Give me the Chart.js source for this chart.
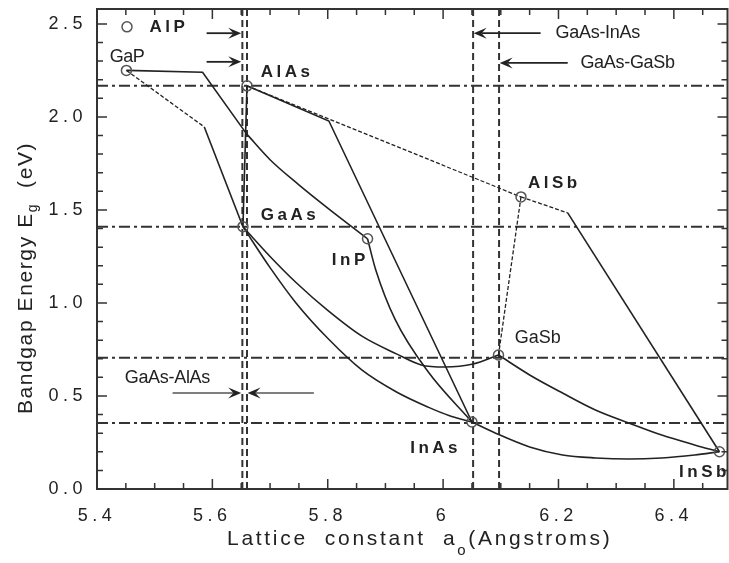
<!DOCTYPE html>
<html>
<head>
<meta charset="utf-8">
<script src="https://cdn.jsdelivr.net/npm/chart.js@4.4.1/dist/chart.umd.min.js"></script>
<style>
html, body { margin: 0; padding: 0; overflow: hidden; background: #fff; }
#wrap { width: 734px; height: 563px; }
</style>
</head>
<body>
<div id="wrap"><canvas id="mycanvas"></canvas></div>
<script>
// binary compounds: lattice constant (Angstroms) and bandgap (eV)
var compounds = ['GaP', 'AlAs', 'GaAs', 'InP', 'AlSb', 'GaSb', 'InAs', 'InSb'];
var compoundA = [5.451, 5.660, 5.653, 5.869, 6.135, 6.096, 6.050, 6.479];
var compoundEg = [2.25, 2.167, 1.41, 1.345, 1.57, 0.72, 0.36, 0.20];

// AlP legend marker
var alpA = [5.452];
var alpEg = [2.484];

// ternary alloys
var gapInpIndA = [5.451, 5.583, 5.659];
var gapInpIndEg = [2.25, 2.24, 1.91];
var gapInpDirA = [5.659, 5.70, 5.75, 5.80, 5.869];
var gapInpDirEg = [1.91, 1.77, 1.635, 1.51, 1.345];
var gapGaasIndA = [5.451, 5.586];
var gapGaasIndEg = [2.25, 1.946];
var gapGaasDirA = [5.586, 5.653];
var gapGaasDirEg = [1.946, 1.41];
var alasInasA = [5.660, 5.802, 6.050];
var alasInasEg = [2.167, 1.978, 0.36];
var alasAlsbA = [5.660, 6.135];
var alasAlsbEg = [2.167, 1.57];
var alasGaasA = [5.660, 5.653];
var alasGaasEg = [2.167, 1.41];
var gaasInasA = [5.653, 5.70, 5.745, 5.80, 5.859, 5.92, 5.974, 6.01, 6.050];
var gaasInasEg = [1.41, 1.19, 1.0, 0.81, 0.64, 0.52, 0.44, 0.395, 0.36];
var gaasGasbA = [5.653, 5.70, 5.745, 5.80, 5.86, 5.92, 5.962, 6.003, 6.052, 6.096];
var gaasGasbEg = [1.41, 1.25, 1.11, 0.96, 0.82, 0.725, 0.667, 0.656, 0.672, 0.72];
var inpInasA = [5.869, 5.883, 5.917, 5.974, 6.050];
var inpInasEg = [1.345, 1.18, 0.91, 0.63, 0.36];
var alsbGasbA = [6.135, 6.096];
var alsbGasbEg = [1.57, 0.72];
var alsbInsbIndA = [6.135, 6.216];
var alsbInsbIndEg = [1.57, 1.484];
var alsbInsbDirA = [6.216, 6.479];
var alsbInsbDirEg = [1.484, 0.20];
var gasbInsbA = [6.096, 6.15, 6.207, 6.264, 6.322, 6.379, 6.436, 6.479];
var gasbInsbEg = [0.72, 0.613, 0.516, 0.425, 0.355, 0.29, 0.237, 0.20];
var inasInsbA = [6.050, 6.091, 6.15, 6.207, 6.264, 6.322, 6.379, 6.436, 6.479];
var inasInsbEg = [0.36, 0.30, 0.226, 0.183, 0.167, 0.161, 0.167, 0.183, 0.20];

// lattice matched guides
var guideA = [5.652, 5.660, 6.052, 6.097];
var guideEg = [2.167, 1.41, 0.705, 0.355];

var xTicks = [5.4, 5.6, 5.8, 6.0, 6.2, 6.4];
var yTicks = [0, 0.5, 1.0, 1.5, 2.0, 2.5];
var xMin = 5.4, xMax = 6.493, yMin = 0, yMax = 2.58;

var FONT = '"Liberation Sans", Arial, sans-serif';
var ink = '#222';

function pts(a, e) {
  return a.map(function(v, i) { return {x: v, y: e[i]}; });
}

function curve(a, e, dashed, smooth) {
  return {
    type: 'line', data: pts(a, e), showLine: true,
    borderColor: ink, borderWidth: dashed ? 1.3 : 1.6,
    borderDash: dashed ? [4, 2] : [],
    pointRadius: 0, fill: false, tension: 0,
    cubicInterpolationMode: smooth ? 'monotone' : 'default'
  };
}

function vGuide(a) {
  return { type: 'line', data: [{x: a, y: yMin}, {x: a, y: yMax}], showLine: true,
    borderColor: '#333', borderWidth: 2, borderDash: [7, 4], pointRadius: 0, fill: false };
}

function hGuide(e) {
  return { type: 'line', data: [{x: xMin, y: e}, {x: xMax, y: e}], showLine: true,
    borderColor: '#333', borderWidth: 2, borderDash: [11, 4, 3, 4], pointRadius: 0, fill: false };
}

var markerStyle = {
  showLine: false, pointRadius: 5, pointBorderWidth: 1.5,
  pointBorderColor: '#555', pointBackgroundColor: 'rgba(255,255,255,0)'
};

var datasets = [
  Object.assign({ label: 'compounds', data: pts(compoundA, compoundEg) }, markerStyle),
  Object.assign({ label: 'AlP', data: pts(alpA, alpEg) }, markerStyle),
  curve(gapInpIndA, gapInpIndEg, false, false),
  curve(gapInpDirA, gapInpDirEg, false, true),
  curve(gapGaasIndA, gapGaasIndEg, true, false),
  curve(gapGaasDirA, gapGaasDirEg, false, false),
  curve(alasInasA, alasInasEg, false, false),
  curve(alasAlsbA, alasAlsbEg, true, false),
  curve(alasGaasA, alasGaasEg, false, false),
  curve(gaasInasA, gaasInasEg, false, true),
  curve(gaasGasbA, gaasGasbEg, false, true),
  curve(inpInasA, inpInasEg, false, true),
  curve(alsbGasbA, alsbGasbEg, true, false),
  curve(alsbInsbIndA, alsbInsbIndEg, true, false),
  curve(alsbInsbDirA, alsbInsbDirEg, false, false),
  curve(gasbInsbA, gasbInsbEg, false, true),
  curve(inasInsbA, inasInsbEg, false, true)
];
guideA.forEach(function(a) { datasets.push(vGuide(a)); });
guideEg.forEach(function(e) { datasets.push(hGuide(e)); });

// text notes: text, a, Eg, font, letter spacing
var notes = [
  ['AlP', 5.491, 2.484, 'bold 17px ' + FONT, 3.5],
  ['GaP', 5.422, 2.323, '18px ' + FONT, -0.5],
  ['AlAs', 5.684, 2.242, 'bold 17px ' + FONT, 3.5],
  ['GaAs', 5.684, 1.473, 'bold 17px ' + FONT, 3.5],
  ['InP', 5.807, 1.231, 'bold 17px ' + FONT, 3.5],
  ['AlSb', 6.147, 1.645, 'bold 17px ' + FONT, 3.5],
  ['GaSb', 6.124, 0.812, '18px ' + FONT, 0],
  ['InAs', 5.943, 0.220, 'bold 17px ' + FONT, 3.5],
  ['InSb', 6.409, 0.091, 'bold 17px ' + FONT, 3.5],
  ['GaAs-InAs', 6.195, 2.452, '18px ' + FONT, -0.3],
  ['GaAs-GaSb', 6.238, 2.290, '18px ' + FONT, -0.3],
  ['GaAs-AlAs', 5.448, 0.597, '18px ' + FONT, -0.3]
];

// arrows: from (a, Eg) to (a, Eg)
var arrowFromA = [5.590, 5.590, 6.169, 6.216, 5.531, 5.776];
var arrowToA = [5.650, 5.650, 6.053, 6.098, 5.650, 5.661];
var arrowEg = [2.45, 2.296, 2.45, 2.29, 0.516, 0.516];

function arrow(c, x1, y1, x2, y2) {
  var ang = Math.atan2(y2 - y1, x2 - x1), L = 13, W = 5.5;
  c.beginPath();
  c.moveTo(x1, y1);
  c.lineTo(x2 - Math.cos(ang) * 8, y2 - Math.sin(ang) * 8);
  c.stroke();
  c.save();
  c.translate(x2, y2);
  c.rotate(ang);
  c.beginPath();
  c.moveTo(0, 0); c.lineTo(-L, -W); c.lineTo(-L * 0.6, 0); c.lineTo(-L, W);
  c.closePath();
  c.fill();
  c.restore();
}

function runs(c, parts, x, y) {
  parts.forEach(function(p) {
    c.font = p.f;
    c.fillText(p.t, x, y + p.dy);
    x += c.measureText(p.t).width;
  });
}

function runsWidth(c, parts) {
  var w = 0;
  parts.forEach(function(p) { c.font = p.f; w += c.measureText(p.t).width; });
  return w;
}

function noPad(s) {
  s.paddingTop = 0; s.paddingBottom = 0; s.paddingLeft = 0; s.paddingRight = 0;
}

var framePlugin = {
  id: 'frame',
  beforeDraw: function(chart) {
    chart.ctx.letterSpacing = '4.5px';
  },
  afterDraw: function(chart) {
    var c = chart.ctx, ca = chart.chartArea, xs = chart.scales.x, ys = chart.scales.y;
    c.save();
    c.letterSpacing = '0px';
    c.strokeStyle = '#333';
    c.lineWidth = 2;
    c.strokeRect(ca.left, ca.top, ca.right - ca.left, ca.bottom - ca.top);

    // inward ticks, minor every 0.05 / 0.1
    c.lineWidth = 1.5;
    var i, px, len;
    for (i = 0; xMin + i * 0.05 <= xMax + 1e-9; i++) {
      px = xs.getPixelForValue(xMin + i * 0.05);
      len = i % 4 === 0 ? 10 : 6;
      c.beginPath();
      c.moveTo(px, ca.bottom); c.lineTo(px, ca.bottom - len);
      c.moveTo(px, ca.top); c.lineTo(px, ca.top + len);
      c.stroke();
    }
    for (i = 0; yMin + i * 0.1 <= yMax + 1e-9; i++) {
      px = ys.getPixelForValue(yMin + i * 0.1);
      len = i % 5 === 0 ? 10 : 6;
      c.beginPath();
      c.moveTo(ca.left, px); c.lineTo(ca.left + len, px);
      c.moveTo(ca.right, px); c.lineTo(ca.right - len, px);
      c.stroke();
    }

    // arrows
    c.strokeStyle = ink;
    c.fillStyle = ink;
    c.lineWidth = 1.8;
    for (i = 0; i < arrowEg.length; i++) {
      if (i >= 4) { c.strokeStyle = '#555'; c.lineWidth = 1.5; }
      arrow(c, xs.getPixelForValue(arrowFromA[i]), ys.getPixelForValue(arrowEg[i]),
        xs.getPixelForValue(arrowToA[i]), ys.getPixelForValue(arrowEg[i]));
    }

    // labels
    c.fillStyle = ink;
    c.textAlign = 'left';
    c.textBaseline = 'middle';
    notes.forEach(function(n) {
      c.font = n[3];
      c.letterSpacing = n[4] + 'px';
      c.fillText(n[0], xs.getPixelForValue(n[1]), ys.getPixelForValue(n[2]));
    });

    // axis titles
    c.textBaseline = 'alphabetic';
    c.letterSpacing = '2.7px';
    var xt = [
      {t: 'Lattice  constant  a', f: '21px ' + FONT, dy: 0},
      {t: 'o', f: '15px ' + FONT, dy: 10},
      {t: '(Angstroms)', f: '21px ' + FONT, dy: 0}
    ];
    runs(c, xt, 227, 545);

    c.letterSpacing = '1.6px';
    var yt = [
      {t: 'Bandgap Energy E', f: '21px ' + FONT, dy: 0},
      {t: 'g', f: '14px ' + FONT, dy: 5},
      {t: '  (eV)', f: '21px ' + FONT, dy: 0}
    ];
    var w = runsWidth(c, yt);
    c.translate(32, 278);
    c.rotate(-Math.PI / 2);
    runs(c, yt, -w / 2, 0);
    c.restore();
  }
};

var ctx = document.getElementById('mycanvas');

var chart = new Chart(ctx, {
  type: 'scatter',
  data: { datasets: datasets },
  options: {
    responsive: true,
    maintainAspectRatio: false,
    animation: false,
    events: [],
    layout: { padding: { top: 9, right: 3, left: 0, bottom: 0 } },
    plugins: { legend: { display: false }, tooltip: { enabled: false } },
    scales: {
      x: {
        type: 'linear', min: xMin, max: xMax,
        grid: { display: false, drawTicks: false, tickLength: 0 },
        border: { display: false },
        afterBuildTicks: function(s) { s.ticks = xTicks.map(function(v) { return {value: v}; }); },
        afterFit: function(s) { s.height = 74; noPad(s); },
        ticks: {
          padding: 16, color: ink, maxRotation: 0, autoSkip: false,
          font: { family: FONT, size: 18 },
          callback: function(v) { return v === 6 ? '6' : v.toFixed(1); }
        }
      },
      y: {
        type: 'linear', min: yMin, max: yMax,
        grid: { display: false, drawTicks: false, tickLength: 0 },
        border: { display: false },
        afterBuildTicks: function(s) { s.ticks = yTicks.map(function(v) { return {value: v}; }); },
        afterFit: function(s) { s.width = 97; noPad(s); },
        ticks: {
          padding: 10, color: ink, autoSkip: false,
          font: { family: FONT, size: 18 },
          callback: function(v) { return v.toFixed(1); }
        }
      }
    }
  },
  plugins: [framePlugin]
});
</script>
</body>
</html>
